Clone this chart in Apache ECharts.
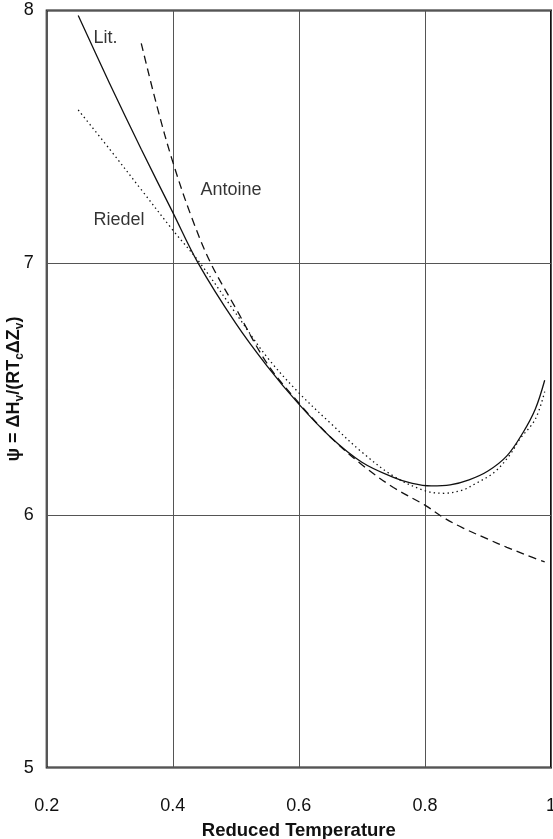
<!DOCTYPE html>
<html>
<head>
<meta charset="utf-8">
<script src="https://cdn.jsdelivr.net/npm/echarts@6/dist/echarts.min.js"></script>
<style>
html,body{margin:0;padding:0;background:#fff;}
#chart{width:553px;height:839px;}
</style>
</head>
<body>
<div id="chart"></div>
<script>
// ---- data ----
var xTickLabels = ['0.2', '0.4', '0.6', '0.8', '1'];
var yTickLabels = ['5', '6', '7', '8'];

var litX = [0.25, 0.30, 0.35, 0.40, 0.44, 0.50, 0.55, 0.60, 0.65, 0.70, 0.75, 0.78, 0.81, 0.84, 0.87, 0.90, 0.93, 0.955, 0.975, 0.99];
var litY = [7.98, 7.71, 7.45, 7.20, 7.00, 6.76, 6.59, 6.44, 6.31, 6.21, 6.15, 6.126, 6.116, 6.12, 6.14, 6.175, 6.235, 6.325, 6.42, 6.535];

var antX = [0.35, 0.375, 0.40, 0.43, 0.46, 0.50, 0.55, 0.60, 0.65, 0.70, 0.75, 0.80, 0.83, 0.86, 0.90, 0.93, 0.96, 0.99];
var antY = [7.87, 7.62, 7.40, 7.18, 7.00, 6.82, 6.60, 6.445, 6.31, 6.20, 6.11, 6.04, 5.99, 5.95, 5.905, 5.873, 5.843, 5.815];

var riedX = [0.25, 0.30, 0.35, 0.40, 0.443, 0.50, 0.55, 0.60, 0.65, 0.70, 0.75, 0.80, 0.83, 0.86, 0.88, 0.91, 0.935, 0.95, 0.975, 0.99];
var riedY = [7.606, 7.45, 7.29, 7.13, 7.00, 6.80, 6.625, 6.485, 6.365, 6.25, 6.155, 6.097, 6.087, 6.10, 6.125, 6.17, 6.24, 6.30, 6.38, 6.49];

var curveNames = ['Lit.', 'Antoine', 'Riedel'];
var labelX = [0.2735, 0.4433, 0.2735];
var labelY = [7.892, 7.289, 7.170];

function pairs(xs, ys) { return xs.map(function (x, i) { return [x, ys[i]]; }); }

var ink = '#111';
var chart = echarts.init(document.getElementById('chart'), null, { renderer: 'canvas' });

chart.setOption({
  animation: false,
  backgroundColor: '#fff',
  grid: {
    left: 46.7, right: 2, top: 10.5, bottom: 71.4,
    containLabel: false, outerBoundsMode: 'none',
    show: true, borderColor: ink, borderWidth: 2, backgroundColor: 'transparent'
  },
  xAxis: {
    type: 'value', min: 0.2, max: 1, interval: 0.2,
    name: 'Reduced Temperature', nameLocation: 'middle', nameGap: 54, nameMoveOverlap: false,
    nameTextStyle: { fontFamily: 'Liberation Sans', fontWeight: 'bold', fontSize: 18.5, color: ink },
    axisLine: { show: false }, axisTick: { show: false },
    axisLabel: {
      margin: 29, fontFamily: 'Liberation Sans', fontSize: 18, color: ink,
      formatter: function (v) { return xTickLabels[Math.round((v - 0.2) / 0.2)]; }
    },
    splitLine: { show: true, lineStyle: { color: '#555', width: 1 } }
  },
  yAxis: {
    type: 'value', min: 5, max: 8, interval: 1,
    name: '{n|ψ = ΔH}{s|v}{n|/(RT}{s|c}{n|ΔZ}{s|v}{n|)}',
    nameLocation: 'middle', nameGap: 24, nameRotate: 90, nameMoveOverlap: false,
    nameTextStyle: {
      color: ink,
      rich: {
        n: { fontFamily: 'Liberation Sans', fontWeight: 'bold', fontSize: 18, color: ink, lineHeight: 22, verticalAlign: 'bottom' },
        s: { fontFamily: 'Liberation Sans', fontWeight: 'bold', fontSize: 12, color: ink, lineHeight: 22, verticalAlign: 'bottom', padding: [0, 0, -3, 0] }
      }
    },
    axisLine: { show: false }, axisTick: { show: false },
    axisLabel: {
      margin: 13, fontFamily: 'Liberation Sans', fontSize: 18, color: ink,
      formatter: function (v) { return yTickLabels[Math.round(v - 5)]; }
    },
    splitLine: { show: true, lineStyle: { color: '#555', width: 1 } }
  },
  series: [
    {
      name: curveNames[0], type: 'line', data: pairs(litX, litY), smooth: 0.35,
      showSymbol: false, symbol: 'none',
      lineStyle: { color: ink, width: 1.3, type: 'solid' }, z: 5
    },
    {
      name: curveNames[1], type: 'line', data: pairs(antX, antY), smooth: 0.35,
      showSymbol: false, symbol: 'none',
      lineStyle: { color: ink, width: 1.3, type: [8, 5] }, z: 4
    },
    {
      name: curveNames[2], type: 'line', data: pairs(riedX, riedY), smooth: 0.35,
      showSymbol: false, symbol: 'none',
      lineStyle: { color: ink, width: 1.3, type: [1.4, 3.2] }, z: 3
    },
    {
      name: 'labels', type: 'scatter', symbolSize: 1, itemStyle: { color: 'transparent' },
      data: curveNames.map(function (n, i) { return { name: n, value: [labelX[i], labelY[i]] }; }),
      label: {
        show: true, position: 'right', distance: 0,
        formatter: '{b}', fontFamily: 'Liberation Sans', fontSize: 18, color: '#000'
      },
      silent: true, z: 6
    }
  ]
});
</script>
</body>
</html>
